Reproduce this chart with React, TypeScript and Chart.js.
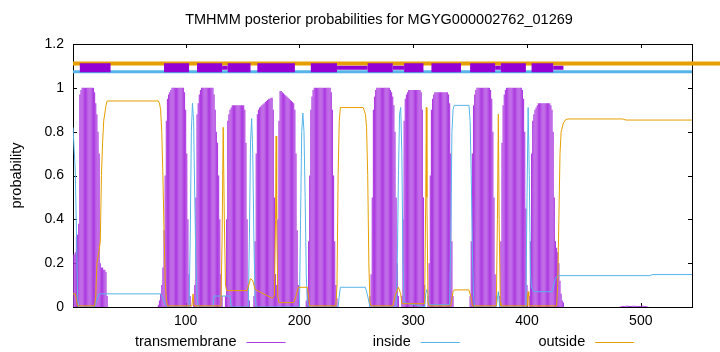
import React, { useEffect, useRef } from "react";
import { Chart, registerables } from "chart.js";

Chart.register(...registerables);

const titleText = "TMHMM posterior probabilities for MGYG000002762_01269";
const yLabel = "probability";
const legendLabels = ["transmembrane", "inside", "outside"];

const xMin = 1;
const xMax = 545;
const xTicks = [100, 200, 300, 400, 500];
const yTicks = [0, 0.2, 0.4, 0.6, 0.8, 1, 1.2];

// transmembrane posterior probability, per residue, by cluster (start residue + values)
const tmStarts = [1, 76, 107, 135, 160, 180, 206, 262, 290, 313, 350, 376, 402, 482];
const tmC1 = [0.24, 0.24, 0.25, 0.32, 0.33, 0.38, 0.97, 0.99, 1, 1, 1, 1, 1, 1, 1, 1, 1, 1, 1, 0.98, 0.93, 0.88, 0.8, 0.7, 0.2, 0.18, 0.18, 0.17, 0.17, 0.16, 0.05];
const tmC2 = [0.01, 0.03, 0.06, 0.1, 0.18, 0.35, 0.6, 0.85, 0.95, 0.97, 0.98, 0.99, 1, 1, 1, 1, 1, 1, 1, 1, 1, 1, 1, 0.98, 0.9, 0.7, 0.4, 0.15, 0.05];
const tmC3 = [0.03, 0.1, 0.5, 0.88, 0.93, 0.97, 0.99, 1, 1, 1, 1, 1, 1, 1, 1, 1, 1, 1, 0.97, 0.9, 0.8, 0.75, 0.6, 0.4, 0.15, 0.05];
const tmC4 = [0.05, 0.4, 0.85, 0.88, 0.9, 0.91, 0.92, 0.92, 0.92, 0.92, 0.92, 0.92, 0.92, 0.92, 0.92, 0.92, 0.92, 0.9, 0.75, 0.4, 0.1, 0.03];
const tmC5 = [0.05, 0.3, 0.7, 0.88, 0.9, 0.91, 0.915, 0.92, 0.925, 0.93, 0.935, 0.94, 0.945, 0.95, 0.95, 0.955, 0.955, 0.9, 0.5, 0.15];
const tmC6 = [0.1, 0.4, 0.85, 0.985, 0.985, 0.98, 0.975, 0.97, 0.965, 0.96, 0.955, 0.95, 0.945, 0.94, 0.935, 0.93, 0.9, 0.7, 0.35, 0.1, 0.03];
const tmC7 = [0.03, 0.08, 0.3, 0.6, 0.9, 0.96, 0.99, 1, 1, 1, 1, 1, 1, 1, 1, 1, 1, 1, 1, 1, 1, 1, 0.98, 0.9, 0.6, 0.3, 0.1, 0.04];
const tmC8 = [0.05, 0.15, 0.5, 0.9, 0.96, 0.99, 1, 1, 1, 1, 1, 1, 1, 1, 1, 1, 1, 1, 0.99, 0.98, 0.96, 0.92, 0.8, 0.5, 0.2, 0.05];
const tmC9 = [0.05, 0.4, 0.85, 0.95, 0.97, 0.98, 0.99, 0.99, 0.99, 0.99, 0.99, 0.99, 0.99, 0.99, 0.99, 0.99, 0.99, 0.98, 0.9, 0.5, 0.1];
const tmC10 = [0.05, 0.2, 0.6, 0.9, 0.95, 0.97, 0.98, 0.98, 0.98, 0.98, 0.98, 0.98, 0.98, 0.98, 0.98, 0.98, 0.98, 0.98, 0.97, 0.93, 0.7, 0.3, 0.05];
const tmC11 = [0.05, 0.3, 0.7, 0.92, 0.97, 0.99, 1, 1, 1, 1, 1, 1, 1, 1, 1, 1, 1, 1, 0.99, 0.95, 0.8, 0.5, 0.15, 0.05];
const tmC12 = [0.05, 0.3, 0.75, 0.92, 0.97, 0.99, 1, 1, 1, 1, 1, 1, 1, 1, 1, 1, 1, 1, 1, 1, 0.99, 0.95, 0.8, 0.45, 0.1];
const tmC13 = [0.05, 0.3, 0.7, 0.85, 0.88, 0.9, 0.91, 0.92, 0.93, 0.93, 0.93, 0.93, 0.93, 0.93, 0.93, 0.93, 0.93, 0.93, 0.93, 0.92, 0.9, 0.8, 0.5, 0.3, 0.27, 0.25, 0.2, 0.12, 0.06, 0.03, 0.02];
const tmC14 = [0.002, 0.003, 0.004, 0.005, 0.005, 0.006, 0.006, 0.006, 0.005, 0.005, 0.005, 0.006, 0.006, 0.006, 0.005, 0.005, 0.004, 0.004, 0.005, 0.006, 0.006, 0.005, 0.004, 0.003, 0.002];
const tmClusters = [tmC1, tmC2, tmC3, tmC4, tmC5, tmC6, tmC7, tmC8, tmC9, tmC10, tmC11, tmC12, tmC13, tmC14];

// inside probability (breakpoints)
const insideX = [1, 2, 3, 4, 5, 6, 20, 22, 24, 78, 80, 82, 84, 103, 104, 105, 106, 107, 108, 109, 110, 111, 124, 125, 139, 140, 155, 156, 157, 158, 159, 160, 161, 162, 200, 201, 202, 203, 204, 205, 206, 207, 208, 234, 235, 236, 258, 260, 262, 285, 286, 287, 288, 289, 290, 291, 292, 310, 311, 312, 313, 314, 332, 333, 334, 335, 336, 349, 350, 351, 352, 353, 354, 373, 374.8, 376, 399, 400, 401, 402, 403, 404, 405, 406, 422, 423, 425, 427, 508, 510, 545];
const insideY = [0.82, 0.72, 0.62, 0.35, 0.05, 0, 0, 0.03, 0.06, 0.06, 0.04, 0.01, 0, 0, 0.3, 0.8, 0.93, 0.85, 0.5, 0.2, 0.05, 0, 0, 0.05, 0.05, 0, 0, 0.3, 0.75, 0.86, 0.7, 0.3, 0.05, 0, 0, 0.4, 0.8, 0.885, 0.8, 0.5, 0.15, 0.02, 0, 0, 0.05, 0.09, 0.09, 0.05, 0, 0, 0.2, 0.6, 0.88, 0.91, 0.7, 0.2, 0.02, 0, 0.06, 0.08, 0.06, 0.01, 0.01, 0.3, 0.8, 0.9, 0.92, 0.92, 0.85, 0.6, 0.25, 0.05, 0, 0, 0.07, 0, 0, 0.5, 0.91, 0.6, 0.15, 0.09, 0.08, 0.07, 0.07, 0.09, 0.13, 0.143, 0.143, 0.148, 0.148];

// outside probability (breakpoints)
const outsideX = [1, 3, 4, 5, 20, 21, 22, 24, 25, 26, 27, 28, 30, 31, 76, 77, 78, 79, 80, 81, 82, 83, 84, 105.5, 106.5, 107.5, 131, 132, 133, 134, 135, 136, 154, 156, 157, 159, 161, 176, 178, 179, 179.5, 180, 181, 182, 195, 197, 199, 207, 208, 209, 232, 233, 234, 235, 236, 256, 258, 259, 260, 261, 262, 263, 282, 284, 287, 289, 290, 310, 311, 311.5, 312, 313, 314, 333, 335, 336, 349, 351, 352, 373, 374, 374.8, 375.5, 376.5, 377, 400, 400.5, 401, 401.5, 402, 426, 427, 428, 429, 430, 432, 434, 436, 484, 487, 545];
const outsideY = [0.06, 0.06, 0.03, 0.005, 0.005, 0.05, 0.2, 0.26, 0.3, 0.6, 0.75, 0.85, 0.92, 0.94, 0.94, 0.93, 0.9, 0.8, 0.6, 0.35, 0.12, 0.04, 0.005, 0.005, 0.06, 0.005, 0.005, 0.3, 0.82, 0.4, 0.1, 0.075, 0.075, 0.11, 0.13, 0.12, 0.08, 0.04, 0.05, 0.4, 0.78, 0.4, 0.05, 0.02, 0.02, 0.05, 0.09, 0.09, 0.05, 0.005, 0.005, 0.1, 0.6, 0.85, 0.91, 0.91, 0.88, 0.82, 0.6, 0.2, 0.02, 0.005, 0.005, 0.05, 0.09, 0.06, 0.015, 0.015, 0.5, 0.91, 0.5, 0.02, 0.005, 0.005, 0.07, 0.078, 0.078, 0.04, 0.005, 0.005, 0.4, 0.88, 0.4, 0.02, 0.005, 0.005, 0.05, 0.07, 0.05, 0.005, 0.005, 0.1, 0.4, 0.7, 0.8, 0.84, 0.855, 0.858, 0.858, 0.853, 0.853];

// predicted topology bars at the top
const topOutsideLevel = 1.111;
const topInsideLevel = 1.073;
const topTmLevel = 1.092;
const topOutsideRange = [1, 580];
const topInsideRange = [1, 545];
const tmBoxes = [[7, 34], [81, 103], [110, 132], [137, 157], [163, 196], [210, 233], [260, 282], [292, 309], [316, 342], [350, 372], [377, 399], [404, 423]];
const tmThin = [[132, 137], [233, 260], [282, 292], [372, 377], [423, 432]];

const PURPLE = "#9400D3";
const BAR_PURPLE = "#ad3de0";
const BLUE = "#56B4E9";
const ORANGE = "#E69F00";
const FONT = "'Liberation Sans', Arial, sans-serif";

function segPoints(segs: number[][], level: number) {
  const pts: any[] = [];
  segs.forEach(([a, b]) => {
    pts.push({ x: a, y: level });
    pts.push({ x: b, y: level });
    pts.push({ x: b + 0.01, y: null });
  });
  return pts;
}

const decor = {
  id: "decor",
  beforeDatasetsDraw(chart: any) {
    const { ctx, chartArea: a, scales } = chart;
    const sx = scales.x;
    const sy = scales.y;
    ctx.save();
    ctx.strokeStyle = "#000";
    ctx.lineWidth = 1;
    ctx.beginPath();
    xTicks.forEach((v) => {
      const px = Math.round(sx.getPixelForValue(v)) + 0.5;
      ctx.moveTo(px, a.bottom);
      ctx.lineTo(px, a.bottom - 4);
      ctx.moveTo(px, a.top);
      ctx.lineTo(px, a.top + 4);
    });
    yTicks.forEach((v) => {
      const py = Math.round(sy.getPixelForValue(v)) + 0.5;
      ctx.moveTo(a.left, py);
      ctx.lineTo(a.left + 4, py);
      ctx.moveTo(a.right, py);
      ctx.lineTo(a.right - 4, py);
    });
    ctx.stroke();
    ctx.strokeRect(Math.round(a.left) + 0.5, Math.round(a.top) + 0.5, Math.round(a.right - a.left), Math.round(a.bottom - a.top));
    ctx.restore();
  },
  afterDraw(chart: any) {
    const { ctx, chartArea: a } = chart;
    ctx.save();
    ctx.fillStyle = "#000";
    ctx.font = `14.5px ${FONT}`;
    ctx.textAlign = "center";
    ctx.textBaseline = "middle";
    ctx.fillText(titleText, 379, 20);
    ctx.save();
    ctx.translate(17, (a.top + a.bottom) / 2);
    ctx.rotate(-Math.PI / 2);
    ctx.fillText(yLabel, 0, 0);
    ctx.restore();
    const colors = [BAR_PURPLE, BLUE, ORANGE];
    const rightEdges = [236.5, 410.7, 585.2];
    const ly = 342;
    ctx.textAlign = "right";
    legendLabels.forEach((t, i) => {
      ctx.fillStyle = "#000";
      ctx.fillText(t, rightEdges[i], ly);
      ctx.strokeStyle = colors[i];
      ctx.lineWidth = 1;
      ctx.beginPath();
      ctx.moveTo(rightEdges[i] + 10, ly + 0.5);
      ctx.lineTo(rightEdges[i] + 49, ly + 0.5);
      ctx.stroke();
    });
    ctx.restore();
  },
};

export default function App() {
  const ref = useRef<HTMLCanvasElement>(null);
  useEffect(() => {
    const tmData: any[] = [];
    tmClusters.forEach((vals, ci) => {
      vals.forEach((v, i) => tmData.push({ x: tmStarts[ci] + i, y: v }));
    });
    const insideData = insideX.map((x, i) => ({ x, y: insideY[i] }));
    const outsideData = outsideX.map((x, i) => ({ x, y: outsideY[i] }));

    const chart = new Chart(ref.current as HTMLCanvasElement, {
      type: "line",
      data: {
        datasets: [
          {
            type: "bar",
            label: "transmembrane",
            data: tmData,
            backgroundColor: BAR_PURPLE,
            borderWidth: 0,
            barPercentage: 1,
            categoryPercentage: 1,
            inflateAmount: 0,
            order: 10,
          } as any,
          {
            label: "inside",
            data: insideData,
            borderColor: BLUE,
            borderWidth: 1,
            pointRadius: 0,
            tension: 0,
            order: 9,
          },
          {
            label: "outside",
            data: outsideData,
            borderColor: ORANGE,
            borderWidth: 1,
            pointRadius: 0,
            tension: 0,
            order: 8,
          },
          {
            label: "topOutside",
            data: [{ x: topOutsideRange[0], y: topOutsideLevel }, { x: topOutsideRange[1], y: topOutsideLevel }],
            borderColor: ORANGE,
            borderWidth: 4,
            borderCapStyle: "butt",
            pointRadius: 0,
            clip: false,
            order: 4,
          } as any,
          {
            label: "topInside",
            data: [{ x: topInsideRange[0], y: topInsideLevel }, { x: topInsideRange[1], y: topInsideLevel }],
            borderColor: BLUE,
            borderWidth: 3,
            borderCapStyle: "butt",
            pointRadius: 0,
            order: 3,
          } as any,
          {
            label: "topTmThin",
            data: segPoints(tmThin, topTmLevel),
            borderColor: PURPLE,
            borderWidth: 4,
            borderCapStyle: "butt",
            pointRadius: 0,
            spanGaps: false,
            order: 2,
          } as any,
          {
            label: "topTm",
            data: segPoints(tmBoxes, topTmLevel),
            borderColor: PURPLE,
            borderWidth: 9,
            borderCapStyle: "butt",
            pointRadius: 0,
            spanGaps: false,
            order: 1,
          } as any,
        ],
      },
      options: {
        animation: false,
        responsive: false,
        devicePixelRatio: 1,
        layout: { padding: { top: 44, right: 28, left: 0, bottom: 0 } },
        plugins: { legend: { display: false }, title: { display: false }, tooltip: { enabled: false } },
        scales: {
          x: {
            type: "linear",
            min: xMin,
            max: xMax,
            offset: false,
            grid: { display: false, drawTicks: false },
            border: { display: false },
            afterBuildTicks: (s: any) => {
              s.ticks = xTicks.map((v) => ({ value: v }));
            },
            afterFit: (s: any) => {
              s.height = 45;
            },
            ticks: {
              color: "#000",
              font: { family: FONT, size: 14 },
              padding: 6,
              maxRotation: 0,
              autoSkip: false,
              callback: (v: any) => String(v),
            },
          },
          y: {
            type: "linear",
            min: 0,
            max: 1.2,
            grid: { display: false, drawTicks: false },
            border: { display: false },
            afterBuildTicks: (s: any) => {
              s.ticks = yTicks.map((v) => ({ value: v }));
            },
            afterFit: (s: any) => {
              s.width = 73;
            },
            ticks: {
              color: "#000",
              font: { family: FONT, size: 14 },
              padding: 9,
              autoSkip: false,
              callback: (v: any) => String(+Number(v).toFixed(1)),
            },
          },
        },
      },
      plugins: [decor],
    } as any);
    return () => chart.destroy();
  }, []);

  return (
    <div style={{ position: "absolute", left: 0, top: 0, width: 720, height: 352, background: "#fff" }}>
      <canvas ref={ref} width={720} height={352} style={{ display: "block" }} />
    </div>
  );
}
